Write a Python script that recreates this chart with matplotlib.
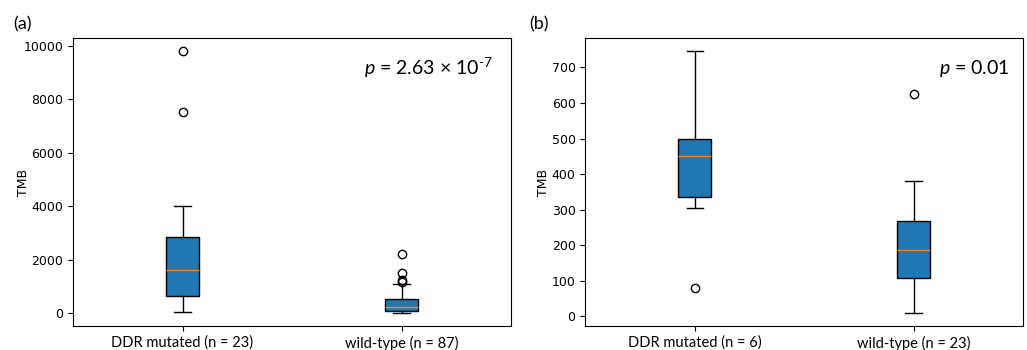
import matplotlib
matplotlib.use("Agg")
import matplotlib.pyplot as plt

plt.rcParams['mathtext.fontset'] = 'custom'
plt.rcParams['mathtext.rm'] = 'Lato'
plt.rcParams['mathtext.it'] = 'Lato:italic'

# ---- data ----
categories_a = ["DDR mutated (n = 23)", "wild-type (n = 87)"]
q1_a = [650, 75]
median_a = [1610, 250]
q3_a = [2870, 525]
whislo_a = [40, 20]
whishi_a = [4000, 1100]
fliers_a = [[9800, 7540], [2230, 1510, 1260, 1160]]
ptext_a = r"$p$ = 2.63 × 10$^{\text{-7}}$"

categories_b = ["DDR mutated (n = 6)", "wild-type (n = 23)"]
q1_b = [336, 109]
median_b = [450, 187]
q3_b = [498, 268]
whislo_b = [304, 10]
whishi_b = [746, 380]
fliers_b = [[80], [625]]
ptext_b = r"$p$ = 0.01"

ylabel = "TMB"


def make_stats(labels, q1, med, q3, lo, hi, fl):
    out = []
    for i in range(len(labels)):
        out.append(dict(label=labels[i], q1=q1[i], med=med[i], q3=q3[i],
                        whislo=lo[i], whishi=hi[i], fliers=fl[i]))
    return out


fig = plt.figure(figsize=(10.27, 3.5), dpi=100)
ax_a = fig.add_axes([73 / 1027, 1 - 326 / 350, 438 / 1027, 288 / 350])
ax_b = fig.add_axes([585.3 / 1027, 1 - 326 / 350, 437.7 / 1027, 288 / 350])

panels = [
    (ax_a, make_stats(categories_a, q1_a, median_a, q3_a, whislo_a, whishi_a, fliers_a),
     ptext_a, 0.959, -0.098, "(a)", 13),
    (ax_b, make_stats(categories_b, q1_b, median_b, q3_b, whislo_b, whishi_b, fliers_b),
     ptext_b, 0.970, -0.081, "(b)", 529),
]

for ax, stats, ptxt, px, lx, plabel, plx in panels:
    ax.bxp(stats, patch_artist=True,
           boxprops=dict(facecolor='#1f77b4', edgecolor='black'),
           medianprops=dict(color='#ff7f0e'),
           flierprops=dict(marker='o', markerfacecolor='none', markeredgecolor='black'))
    ax.tick_params(axis='y', labelsize=9)
    for t in ax.get_xticklabels():
        t.set_fontfamily('Lato')
        t.set_fontsize(10.5)
    ax.set_ylabel(ylabel, fontsize=9)
    ax.yaxis.set_label_coords(lx, 0.5)
    ax.text(px, 0.895, ptxt, transform=ax.transAxes, ha='right', va='center',
            fontsize=14, family='Lato')
    fig.text(plx / 1027, 1 - 24 / 350, plabel, ha='left', va='center',
             fontsize=13, family='Lato')

fig.savefig("out.png", dpi=100)
